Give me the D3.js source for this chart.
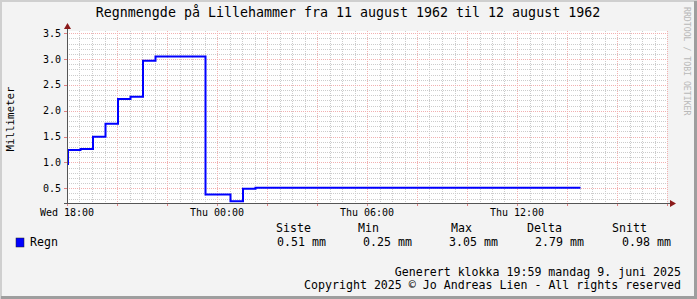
<!DOCTYPE html>
<html>
<head>
<meta charset="utf-8">
<script src="https://cdn.jsdelivr.net/npm/d3@7"></script>
<style>
  html, body { margin: 0; padding: 0; background: #f3f3f3; }
  svg text { font-family: "DejaVu Sans Mono", monospace; fill: #000; }
</style>
</head>
<body>
<svg id="chart" width="697" height="299"></svg>
<script>
// rain in mm, hours counted from Wed 18:00
const hours = [-0.5, 0, 0.5, 1, 1.5, 2, 2.5, 3, 3.5, 5.5, 6.5, 7, 7.5, 20.5]
const rain = [0.97, 1.24, 1.26, 1.50, 1.75, 2.23, 2.27, 2.97, 3.05, 0.38, 0.25, 0.49, 0.51, 0.51]

const xLabelHours = [0, 6, 12, 18]
const xLabels = ["Wed 18:00", "Thu 00:00", "Thu 06:00", "Thu 12:00"]

const statNames = ["Siste", "Min", "Max", "Delta", "Snitt"]
const statValues = ["0.51 mm", "0.25 mm", "3.05 mm", "2.79 mm", "0.98 mm"]

const title = "Regnmengde på Lillehammer fra 11 august 1962 til 12 august 1962"

const svg = d3.select("#chart")
const width = +svg.attr("width")
const height = +svg.attr("height")

const plot = {left: 67, right: 667, top: 31, bottom: 203}

// background + shaded border like rrdtool
svg.append("rect").attr("width", width).attr("height", height).attr("fill", "#f3f3f3")
svg.append("path").attr("d", `M0,${height} V0 H${width}`).attr("stroke", "#cfcfcf").attr("stroke-width", 4).attr("fill", "none")
svg.append("path").attr("d", `M1,${height - 1.5} H${width - 1.5} V1`).attr("stroke", "#9e9e9e").attr("stroke-width", 3).attr("fill", "none")

svg.append("rect")
    .attr("x", plot.left).attr("y", plot.top)
    .attr("width", plot.right - plot.left).attr("height", plot.bottom - plot.top)
    .attr("fill", "#fff")

const x = d3.scaleLinear().domain([0, 24]).range([plot.left, plot.right])
const y = d3.scaleLinear().domain([0.215, 3.545]).range([plot.bottom, plot.top])

const g = svg.append("g")

// minor grid
const minorX = d3.range(0, 24.01, 0.5).filter(h => h % 2 !== 0)
const majorX = d3.range(0, 24.01, 2)
const minorY = y.ticks(33).filter(v => Math.round(v * 10) % 5 !== 0)
const majorY = y.ticks(7)

const px = v => Math.round(v) + 0.5

g.selectAll(".vminor").data(minorX).enter().append("line")
    .attr("x1", d => px(x(d))).attr("x2", d => px(x(d)))
    .attr("y1", plot.top).attr("y2", plot.bottom)
    .attr("stroke", "#cccccc").attr("stroke-dasharray", "1,1")
g.selectAll(".hminor").data(minorY).enter().append("line")
    .attr("y1", d => px(y(d))).attr("y2", d => px(y(d)))
    .attr("x1", plot.left).attr("x2", plot.right)
    .attr("stroke", "#cccccc").attr("stroke-dasharray", "1,1")
g.selectAll(".vmajor").data(majorX).enter().append("line")
    .attr("x1", d => px(x(d))).attr("x2", d => px(x(d)))
    .attr("y1", plot.top).attr("y2", plot.bottom)
    .attr("stroke", "#f2b0b0").attr("stroke-dasharray", "1,1")
g.selectAll(".hmajor").data(majorY).enter().append("line")
    .attr("y1", d => px(y(d))).attr("y2", d => px(y(d)))
    .attr("x1", plot.left).attr("x2", plot.right)
    .attr("stroke", "#f2b0b0").attr("stroke-dasharray", "1,1")

// data line
svg.append("clipPath").attr("id", "clip").append("rect")
    .attr("x", plot.left).attr("y", plot.top - 2)
    .attr("width", plot.right - plot.left).attr("height", plot.bottom - plot.top + 2)

const line = d3.line()
    .x((d, i) => x(hours[i]) + 1)
    .y(d => y(d))
    .curve(d3.curveStepAfter)

svg.append("path")
    .datum(rain)
    .attr("clip-path", "url(#clip)")
    .attr("d", line)
    .attr("fill", "none")
    .attr("stroke", "#0000ff")
    .attr("stroke-width", 2)

// axes with arrows
const axisColor = "#555"
svg.append("line").attr("x1", plot.left - 3).attr("x2", plot.right + 4)
    .attr("y1", plot.bottom + 0.5).attr("y2", plot.bottom + 0.5)
    .attr("stroke", axisColor)
svg.append("line").attr("x1", plot.left + 0.5).attr("x2", plot.left + 0.5)
    .attr("y1", plot.bottom + 3).attr("y2", plot.top - 2)
    .attr("stroke", axisColor)
svg.append("path")
    .attr("d", `M${plot.right + 3},${plot.bottom - 3} L${plot.right + 9},${plot.bottom + 0.5} L${plot.right + 3},${plot.bottom + 4} Z`)
    .attr("fill", "#8b1a1a")
svg.append("path")
    .attr("d", `M${plot.left - 3},${plot.top - 2} L${plot.left + 0.5},${plot.top - 8} L${plot.left + 4},${plot.top - 2} Z`)
    .attr("fill", "#8b1a1a")

// small ticks on axes
svg.selectAll(".xt").data(majorX).enter().append("line")
    .attr("x1", d => px(x(d))).attr("x2", d => px(x(d)))
    .attr("y1", plot.bottom + 1).attr("y2", plot.bottom + 3)
    .attr("stroke", "#e08080")
svg.selectAll(".yt").data(majorY).enter().append("line")
    .attr("y1", d => px(y(d))).attr("y2", d => px(y(d)))
    .attr("x1", plot.left - 3).attr("x2", plot.left)
    .attr("stroke", "#e08080")

// tick labels
svg.selectAll(".ylab").data(majorY).enter().append("text")
    .attr("x", 61).attr("y", d => y(d) + 3.5)
    .attr("text-anchor", "end")
    .style("font-size", "10px")
    .text(d3.format(".1f"))
svg.selectAll(".xlab").data(xLabelHours).enter().append("text")
    .attr("x", d => x(d)).attr("y", 216)
    .attr("text-anchor", "middle")
    .style("font-size", "10px")
    .text((d, i) => xLabels[i])

// titles
svg.append("text").attr("x", 348).attr("y", 17)
    .attr("text-anchor", "middle").style("font-size", "13.3px")
    .text(title)
svg.append("text")
    .attr("transform", "translate(14,119) rotate(-90)")
    .attr("text-anchor", "middle").style("font-size", "10.8px")
    .text("Millimeter")
svg.append("text")
    .attr("transform", "translate(684,7) rotate(90)")
    .attr("text-anchor", "start").style("font-size", "8.2px")
    .style("fill", "#b8b8b8")
    .text("RRDTOOL / TOBI OETIKER")

// legend
const statX = [276, 358, 451, 527, 612]
const valX = [277, 363, 449, 535, 622]
svg.selectAll(".sname").data(statNames).enter().append("text")
    .attr("x", (d, i) => statX[i]).attr("y", 232)
    .style("font-size", "11.6px")
    .text(d => d)
svg.selectAll(".sval").data(statValues).enter().append("text")
    .attr("x", (d, i) => valX[i]).attr("y", 246)
    .style("font-size", "11.6px")
    .text(d => d)
svg.append("rect").attr("x", 16).attr("y", 238).attr("width", 8).attr("height", 9)
    .attr("fill", "#0000ff").attr("stroke", "#222").attr("stroke-width", 0.5)
svg.append("text").attr("x", 30).attr("y", 246).style("font-size", "11.6px").text("Regn")

svg.append("text").attr("x", 681).attr("y", 276).attr("text-anchor", "end")
    .style("font-size", "11.6px").text("Generert klokka 19:59 mandag 9. juni 2025")
svg.append("text").attr("x", 681).attr("y", 289).attr("text-anchor", "end")
    .style("font-size", "11.6px").text("Copyright 2025 © Jo Andreas Lien - All rights reserved")
</script>
</body>
</html>
